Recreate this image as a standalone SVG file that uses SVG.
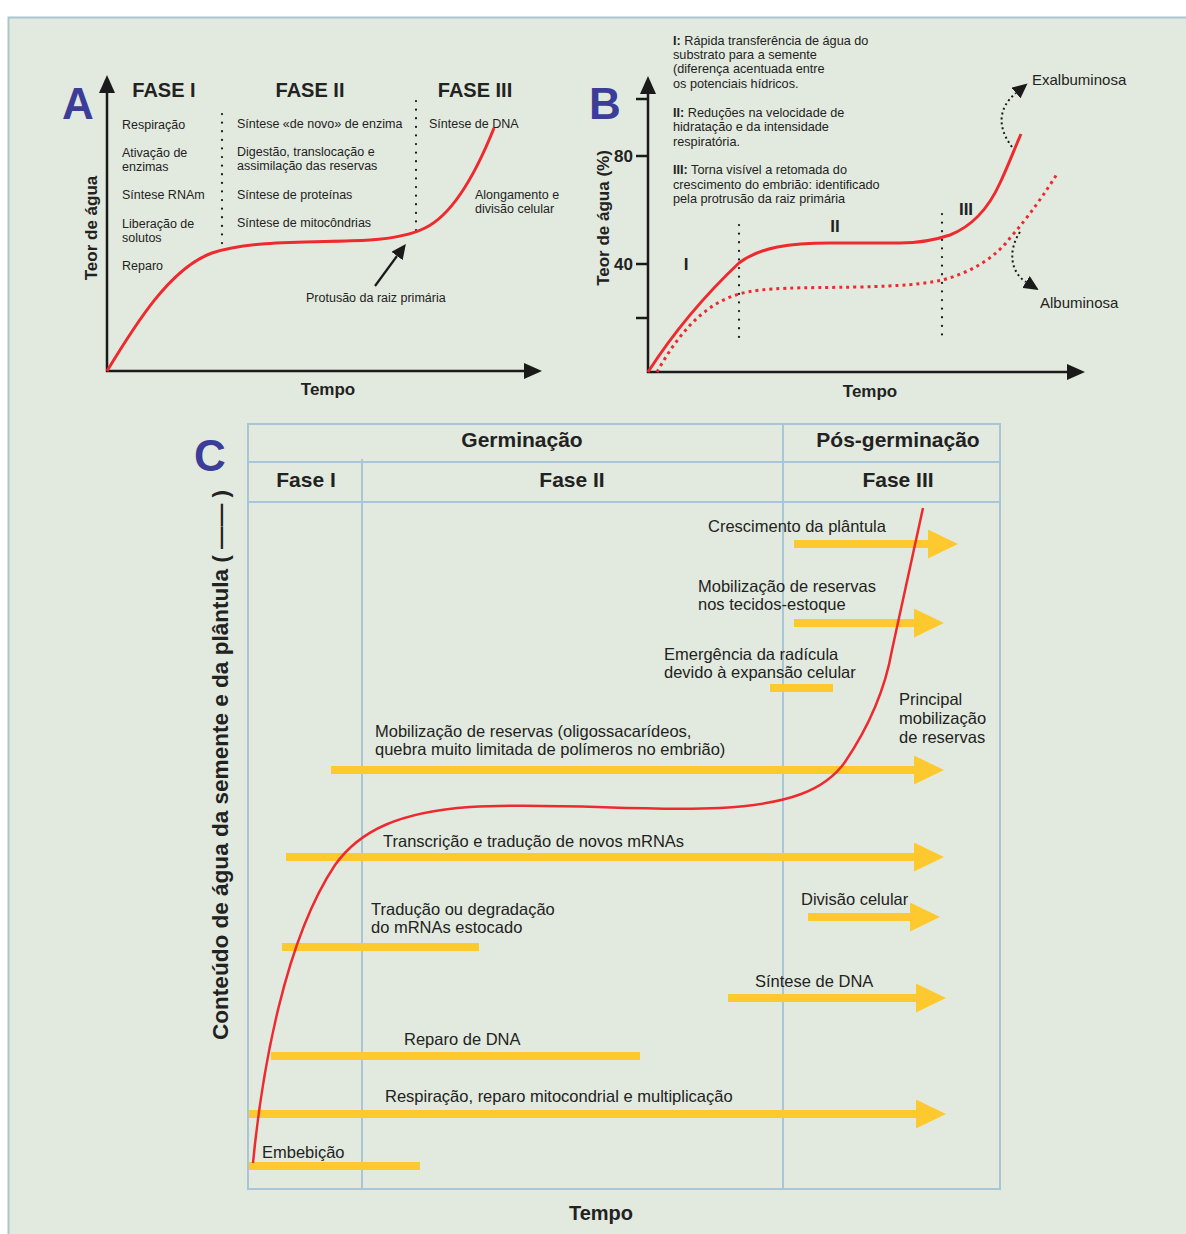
<svg xmlns="http://www.w3.org/2000/svg" width="1186" height="1234" viewBox="0 0 1186 1234">
<style>
text{font-family:"Liberation Sans",Arial,sans-serif;fill:#222}
.b{font-weight:bold}
.big{font-size:44px;font-weight:bold;fill:#3b3d99}
.fase{font-size:20px;font-weight:bold}
.sa{font-size:12.5px}
.sb{font-size:12.7px}
.lb{font-size:15px}
.ax{font-size:17px;font-weight:bold}
.sc{font-size:16.5px}
.hd{font-size:21px;font-weight:bold}
.axis{stroke:#1a1a1a;stroke-width:2.5;fill:none}
.dot{stroke:#1a1a1a;stroke-width:2.2;stroke-dasharray:0.1 8.5;stroke-linecap:round;fill:none}
.red{stroke:#ee2a2f;stroke-width:3;fill:none}
.reddot{stroke:#ee2a2f;stroke-width:3;stroke-dasharray:3 4;fill:none}
.bdot{stroke:#1a1a1a;stroke-width:2;stroke-dasharray:2 3;fill:none}
.grid{stroke:#a9c6d6;stroke-width:2;fill:none}
.bar{stroke:#fec92e;stroke-width:8;fill:none}
</style>
<defs>
<marker id="ah" viewBox="0 0 18 16" refX="0" refY="8" markerWidth="18" markerHeight="16" markerUnits="userSpaceOnUse" orient="auto"><path d="M0,0 L18,8 L0,16 z" fill="#1a1a1a"/></marker>
<marker id="sah" viewBox="0 0 15 14" refX="0" refY="7" markerWidth="15" markerHeight="14" markerUnits="userSpaceOnUse" orient="auto"><path d="M0,0 L15,7 L0,14 z" fill="#1a1a1a"/></marker>
<marker id="yah" viewBox="0 0 30 29" refX="0" refY="14.5" markerWidth="30" markerHeight="29" markerUnits="userSpaceOnUse" orient="auto"><path d="M0,0 L30,14.5 L0,29 z" fill="#fec92e"/></marker>
</defs>
<rect x="0" y="0" width="1186" height="1234" fill="#ffffff"/>
<rect x="8.5" y="17.5" width="1200" height="1240" fill="#e2eadf" stroke="#a9c6d0" stroke-width="2"/>

<!-- Panel A -->
<g id="panelA">
<text class="big" x="62" y="119">A</text>
<line class="axis" x1="107" y1="372" x2="107" y2="93" marker-end="url(#ah)"/>
<line class="axis" x1="106" y1="371" x2="524" y2="371" marker-end="url(#ah)"/>
<text class="ax" x="328" y="395" text-anchor="middle">Tempo</text>
<text class="ax" transform="translate(97,228) rotate(-90)" text-anchor="middle">Teor de água</text>
<text class="fase" x="164" y="97" text-anchor="middle">FASE I</text>
<text class="fase" x="310" y="97" text-anchor="middle">FASE II</text>
<text class="fase" x="475" y="97" text-anchor="middle">FASE III</text>
<line class="dot" x1="222" y1="114" x2="222" y2="246"/>
<line class="dot" x1="416" y1="101" x2="416" y2="236"/>
<text class="sa" x="122" y="129">Respiração</text>
<text class="sa" x="122" y="157">Ativação de</text>
<text class="sa" x="122" y="171">enzimas</text>
<text class="sa" x="122" y="199">Síntese RNAm</text>
<text class="sa" x="122" y="228">Liberação de</text>
<text class="sa" x="122" y="242">solutos</text>
<text class="sa" x="122" y="270">Reparo</text>
<text class="sa" x="237" y="128">Síntese «de novo» de enzima</text>
<text class="sa" x="237" y="156">Digestão, translocação e</text>
<text class="sa" x="237" y="170">assimilação das reservas</text>
<text class="sa" x="237" y="199">Síntese de proteínas</text>
<text class="sa" x="237" y="227">Síntese de mitocôndrias</text>
<text class="sa" x="429" y="128">Síntese de DNA</text>
<text class="sa" x="475" y="199">Alongamento e</text>
<text class="sa" x="475" y="213">divisão celular</text>
<path class="red" d="M107,371 C135,325 170,268 212,253 C255,239 320,243 370,240 C398,238 413,234 425,228 C452,215 474,178 494,128"/>
<line x1="375" y1="286" x2="397" y2="256" stroke="#1a1a1a" stroke-width="2.2" marker-end="url(#sah)"/>
<text class="sa" x="306" y="302">Protusão da raiz primária</text>
</g>

<!-- Panel B -->
<g id="panelB">
<text class="big" x="589" y="119">B</text>
<line class="axis" x1="648" y1="373" x2="648" y2="94" marker-end="url(#ah)"/>
<line class="axis" x1="647" y1="372" x2="1067" y2="372" marker-end="url(#ah)"/>
<line class="axis" x1="636" y1="99" x2="648" y2="99"/>
<line class="axis" x1="636" y1="156" x2="648" y2="156"/>
<line class="axis" x1="636" y1="264" x2="648" y2="264"/>
<line class="axis" x1="636" y1="318" x2="648" y2="318"/>
<text class="ax" x="633" y="162" text-anchor="end">80</text>
<text class="ax" x="633" y="270" text-anchor="end">40</text>
<text class="ax" transform="translate(609,218) rotate(-90)" text-anchor="middle">Teor de água (%)</text>
<text class="ax" x="870" y="397" text-anchor="middle">Tempo</text>
<line class="dot" x1="739" y1="225" x2="739" y2="340"/>
<line class="dot" x1="942" y1="214" x2="942" y2="340"/>
<text class="ax" x="686" y="270" text-anchor="middle">I</text>
<text class="ax" x="835" y="232" text-anchor="middle">II</text>
<text class="ax" x="966" y="215" text-anchor="middle">III</text>
<path class="red" d="M648,372 C672,335 705,295 739,263 C760,247 790,243 830,243 L900,243 C920,243 935,240 950,235 C975,225 990,205 1000,183 C1008,166 1014,150 1021,134"/>
<path class="reddot" d="M657,372 C675,340 700,305 739,294 C765,287 800,288 860,287 C900,286 925,284 942,280 C970,273 995,258 1010,238 C1030,215 1045,193 1057,174"/>
<path class="bdot" d="M1012,147 C997,127 998,108 1016,93" marker-end="url(#sah)"/>
<path class="bdot" d="M1020,232 C1008,250 1010,272 1026,282" marker-end="url(#sah)"/>
<text class="lb" x="1032" y="85">Exalbuminosa</text>
<text class="lb" x="1040" y="308">Albuminosa</text>
<text class="sb" x="673" y="45"><tspan class="b">I:</tspan> Rápida transferência de água do</text>
<text class="sb" x="673" y="59">substrato para a semente</text>
<text class="sb" x="673" y="73">(diferença acentuada entre</text>
<text class="sb" x="673" y="88">os potenciais hídricos.</text>
<text class="sb" x="673" y="117"><tspan class="b">II:</tspan> Reduções na velocidade de</text>
<text class="sb" x="673" y="131">hidratação e da intensidade</text>
<text class="sb" x="673" y="146">respiratória.</text>
<text class="sb" x="673" y="174"><tspan class="b">III:</tspan> Torna visível a retomada do</text>
<text class="sb" x="673" y="189">crescimento do embrião: identificado</text>
<text class="sb" x="673" y="203">pela protrusão da raiz primária</text>
</g>

<!-- Panel C -->
<g id="panelC">
<text class="big" x="194" y="471">C</text>
<rect class="grid" x="248" y="424" width="752" height="765"/>
<line class="grid" x1="248" y1="462" x2="1000" y2="462"/>
<line class="grid" x1="248" y1="502" x2="1000" y2="502"/>
<line class="grid" x1="362" y1="459" x2="362" y2="1189"/>
<line class="grid" x1="783" y1="424" x2="783" y2="1189"/>
<text class="hd" x="522" y="447" text-anchor="middle">Germinação</text>
<text class="hd" x="898" y="447" text-anchor="middle">Pós-germinação</text>
<text class="hd" x="306" y="487" text-anchor="middle">Fase I</text>
<text class="hd" x="572" y="487" text-anchor="middle">Fase II</text>
<text class="hd" x="898" y="487" text-anchor="middle">Fase III</text>
<text class="b" style="font-size:21.5px" transform="translate(228,765) rotate(-90)" text-anchor="middle" textLength="550" lengthAdjust="spacingAndGlyphs">Conteúdo de água da semente e da plântula ( —— )</text>
<text class="b" style="font-size:20px" x="601" y="1220" text-anchor="middle">Tempo</text>
</g>

<g id="connectors">
<line class="bar" x1="794" y1="544" x2="928" y2="544" marker-end="url(#yah)"/>
<line class="bar" x1="794" y1="623" x2="914" y2="623" marker-end="url(#yah)"/>
<line class="bar" x1="770" y1="688" x2="833" y2="688"/>
<line class="bar" x1="331" y1="770" x2="914" y2="770" marker-end="url(#yah)"/>
<line class="bar" x1="286" y1="857" x2="914" y2="857" marker-end="url(#yah)"/>
<line class="bar" x1="808" y1="917" x2="910" y2="917" marker-end="url(#yah)"/>
<line class="bar" x1="282" y1="947" x2="479" y2="947"/>
<line class="bar" x1="728" y1="998" x2="916" y2="998" marker-end="url(#yah)"/>
<line class="bar" x1="271" y1="1056" x2="640" y2="1056"/>
<line class="bar" x1="249" y1="1114" x2="916" y2="1114" marker-end="url(#yah)"/>
<line class="bar" x1="249" y1="1166" x2="420" y2="1166"/>
<path d="M253,1163 C262,1070 285,940 335,865 C360,830 400,812 470,807 C560,802 640,812 720,808 C790,804 825,790 845,762 C870,725 885,690 892,650 C902,605 912,560 923,508" stroke="#ee2a2f" stroke-width="2.5" fill="none"/>
</g>

<g id="labelsC">
<text class="sc" x="708" y="532">Crescimento da plântula</text>
<text class="sc" x="698" y="592">Mobilização de reservas</text>
<text class="sc" x="698" y="610">nos tecidos-estoque</text>
<text class="sc" x="664" y="660">Emergência da radícula</text>
<text class="sc" x="664" y="678">devido à expansão celular</text>
<text class="sc" x="899" y="705">Principal</text>
<text class="sc" x="899" y="724">mobilização</text>
<text class="sc" x="899" y="743">de reservas</text>
<text class="sc" x="375" y="737">Mobilização de reservas (oligossacarídeos,</text>
<text class="sc" x="375" y="755">quebra muito limitada de polímeros no embrião)</text>
<text class="sc" x="383" y="847">Transcrição e tradução de novos mRNAs</text>
<text class="sc" x="801" y="905">Divisão celular</text>
<text class="sc" x="371" y="915">Tradução ou degradação</text>
<text class="sc" x="371" y="933">do mRNAs estocado</text>
<text class="sc" x="755" y="987">Síntese de DNA</text>
<text class="sc" x="404" y="1045">Reparo de DNA</text>
<text class="sc" x="385" y="1102">Respiração, reparo mitocondrial e multiplicação</text>
<text class="sc" x="262" y="1158">Embebição</text>
</g>
</svg>
